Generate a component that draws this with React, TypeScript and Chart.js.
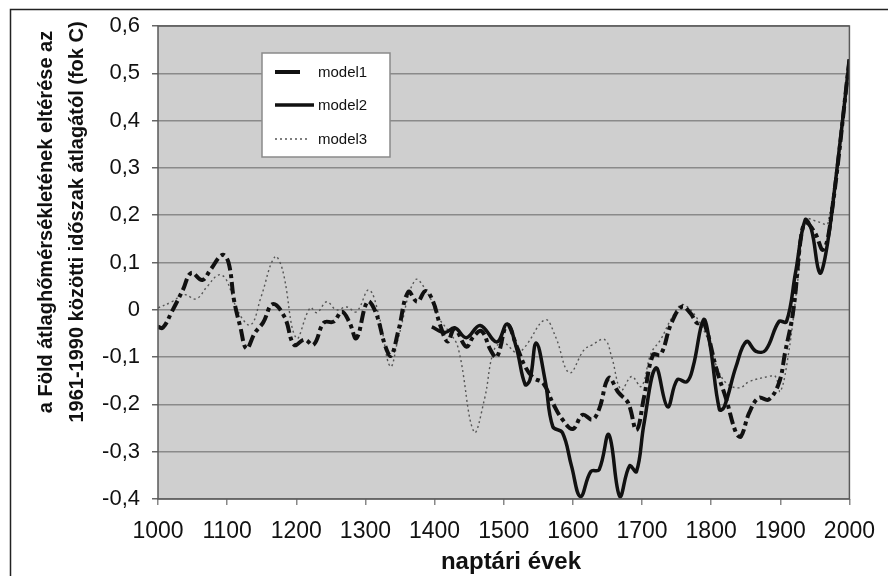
import React, { useEffect, useRef } from "react";
import { Chart, registerables } from "chart.js";

Chart.register(...registerables);

const seriesNames = ["model1", "model2", "model3"];
const yTitleLines = [
  "a Föld átlaghőmérsékletének eltérése az",
  "1961-1990 közötti időszak átlagától (fok C)",
];
const xTitle = "naptári évek";

const years1 = [1000, 1007, 1020, 1036, 1048, 1064, 1076, 1093, 1102, 1110, 1119, 1128, 1140, 1152, 1166, 1183, 1197, 1212, 1225, 1240, 1254, 1266, 1277, 1287, 1303, 1315, 1329, 1337, 1348, 1362, 1375, 1387, 1398, 1408, 1419, 1429, 1446, 1456, 1468, 1481, 1490, 1505, 1519, 1531, 1543, 1557, 1571, 1585, 1600, 1614, 1628, 1638, 1652, 1666, 1680, 1692, 1703, 1716, 1727, 1742, 1758, 1770, 1780, 1789, 1808, 1822, 1836, 1843, 1855, 1869, 1883, 1898, 1907, 1919, 1930, 1937, 1950, 1962, 1973, 2000];
const model1 = [-0.036, -0.038, -0.004, 0.042, 0.078, 0.063, 0.085, 0.116, 0.1, 0.02, -0.036, -0.082, -0.049, -0.027, 0.012, -0.015, -0.074, -0.063, -0.074, -0.027, -0.025, -0.004, -0.027, -0.06, 0.017, -0.006, -0.078, -0.097, -0.042, 0.038, 0.017, 0.04, 0.017, -0.032, -0.067, -0.04, -0.078, -0.057, -0.045, -0.085, -0.1, -0.032, -0.078, -0.12, -0.144, -0.155, -0.197, -0.232, -0.252, -0.222, -0.232, -0.21, -0.144, -0.175, -0.197, -0.254, -0.184, -0.095, -0.095, -0.03, 0.007, -0.007, -0.028, -0.025, -0.127, -0.19, -0.26, -0.268, -0.218, -0.186, -0.19, -0.155, -0.09, 0, 0.154, 0.184, 0.163, 0.127, 0.19, 0.529];

const years2 = [1396, 1415, 1429, 1446, 1466, 1490, 1505, 1518, 1531, 1538, 1547, 1560, 1571, 1585, 1598, 1611, 1626, 1638, 1652, 1668, 1682, 1692, 1703, 1720, 1737, 1751, 1765, 1774, 1789, 1798, 1812, 1819, 1836, 1851, 1865, 1879, 1898, 1909, 1922, 1936, 1945, 1957, 1966, 1979, 2000];
const model2 = [-0.036, -0.048, -0.038, -0.059, -0.033, -0.068, -0.03, -0.078, -0.158, -0.148, -0.07, -0.15, -0.247, -0.26, -0.33, -0.395, -0.342, -0.338, -0.264, -0.395, -0.33, -0.342, -0.24, -0.123, -0.205, -0.148, -0.152, -0.12, -0.021, -0.07, -0.211, -0.205, -0.12, -0.067, -0.088, -0.085, -0.025, -0.025, 0.078, 0.19, 0.17, 0.078, 0.12, 0.26, 0.53];

const years3 = [1000, 1020, 1038, 1055, 1071, 1088, 1099, 1116, 1134, 1149, 1169, 1180, 1200, 1220, 1230, 1244, 1258, 1273, 1287, 1305, 1320, 1336, 1348, 1372, 1391, 1405, 1420, 1434, 1457, 1472, 1486, 1500, 1519, 1531, 1560, 1575, 1595, 1616, 1628, 1646, 1656, 1670, 1685, 1699, 1713, 1727, 1744, 1760, 1789, 1808, 1822, 1841, 1855, 1883, 1893, 1900, 1912, 1926, 1937, 1955, 1969, 2000];
const model3 = [0.004, 0.017, 0.032, 0.023, 0.049, 0.074, 0.063, -0.004, -0.032, 0.027, 0.112, 0.085, -0.06, 0.004, -0.006, 0.017, 0, 0.006, -0.004, 0.042, -0.015, -0.12, -0.057, 0.063, 0.032, -0.015, -0.045, -0.08, -0.258, -0.19, -0.085, -0.07, -0.091, -0.078, -0.021, -0.057, -0.133, -0.085, -0.074, -0.063, -0.099, -0.169, -0.141, -0.162, -0.092, -0.063, -0.015, 0.011, -0.042, -0.12, -0.155, -0.165, -0.152, -0.141, -0.141, -0.173, -0.092, 0.07, 0.19, 0.186, 0.183, 0.53];

const FONT = '"Liberation Sans", Arial, sans-serif';

const toPoints = (xs: number[], ys: number[]) => xs.map((x, i) => ({ x, y: ys[i] }));

const decorPlugin = {
  id: "decor",
  beforeDraw(chart: any) {
    const { ctx, chartArea: a } = chart;
    ctx.save();
    ctx.fillStyle = "#cfcfcf";
    ctx.fillRect(a.left, a.top, a.right - a.left, a.bottom - a.top);
    ctx.restore();
  },
  afterDraw(chart: any) {
    const { ctx, chartArea: a } = chart;
    ctx.save();
    ctx.strokeStyle = "#5a5a5a";
    ctx.lineWidth = 1.5;
    ctx.strokeRect(a.left, a.top, a.right - a.left, a.bottom - a.top);
    ctx.strokeStyle = "#222";
    ctx.lineWidth = 1.5;
    ctx.beginPath();
    ctx.moveTo(10.5, 576);
    ctx.lineTo(10.5, 9.5);
    ctx.lineTo(888, 9.5);
    ctx.stroke();

    ctx.fillStyle = "#111";
    ctx.font = `bold 20px ${FONT}`;
    ctx.textAlign = "center";
    ctx.textBaseline = "middle";
    ctx.save();
    ctx.translate(46, 222);
    ctx.rotate(-Math.PI / 2);
    ctx.fillText(yTitleLines[0], 0, 0);
    ctx.fillText(yTitleLines[1], 0, 31);
    ctx.restore();
    ctx.font = `bold 24px ${FONT}`;
    ctx.fillText(xTitle, 511, 562);

    const lx = 262, ly = 53, lw = 128, lh = 104;
    ctx.fillStyle = "#ffffff";
    ctx.fillRect(lx, ly, lw, lh);
    ctx.strokeStyle = "#8a8a8a";
    ctx.lineWidth = 1.5;
    ctx.strokeRect(lx, ly, lw, lh);
    const rows = [73, 106, 140];
    const styles = [
      { w: 4, dash: [] as number[], x2: 300, color: "#111" },
      { w: 3.5, dash: [] as number[], x2: 314, color: "#111" },
      { w: 1.3, dash: [2, 3], x2: 309, color: "#555" },
    ];
    ctx.font = `15px ${FONT}`;
    ctx.textAlign = "left";
    rows.forEach((ry, i) => {
      const s = styles[i];
      ctx.strokeStyle = s.color;
      ctx.lineWidth = s.w;
      ctx.setLineDash(s.dash);
      ctx.beginPath();
      ctx.moveTo(275, ry - 1);
      ctx.lineTo(s.x2, ry - 1);
      ctx.stroke();
      ctx.setLineDash([]);
      ctx.fillStyle = "#111";
      ctx.fillText(seriesNames[i], 318, ry);
    });
    ctx.restore();
  },
};

export default function App() {
  const ref = useRef<HTMLCanvasElement | null>(null);
  useEffect(() => {
    if (!ref.current) return;
    const chart = new Chart(ref.current, {
      type: "line",
      data: {
        datasets: [
          {
            label: seriesNames[0],
            data: toPoints(years1, model1),
            borderColor: "#111",
            borderWidth: 4,
            borderDash: [12, 4, 4, 4],
            pointRadius: 0,
            tension: 0.4,
            fill: false,
          },
          {
            label: seriesNames[1],
            data: toPoints(years2, model2),
            borderColor: "#111",
            borderWidth: 3.5,
            pointRadius: 0,
            tension: 0.4,
            fill: false,
          },
          {
            label: seriesNames[2],
            data: toPoints(years3, model3),
            borderColor: "#555",
            borderWidth: 1.4,
            borderDash: [2, 3],
            pointRadius: 0,
            tension: 0.4,
            fill: false,
          },
        ],
      },
      options: {
        animation: false,
        responsive: false,
        events: [],
        layout: { padding: { left: 0, top: 26, right: 27, bottom: 0 } },
        plugins: { legend: { display: false }, tooltip: { enabled: false }, title: { display: false } },
        scales: {
          x: {
            type: "linear",
            min: 1000,
            max: 2000,
            afterFit: (s: any) => { s.height = 77; },
            ticks: {
              stepSize: 100,
              color: "#111",
              font: { family: FONT, size: 23 },
              padding: 13,
              maxRotation: 0,
              autoSkip: false,
              callback: (v: any) => String(Math.round(Number(v))),
            },
            grid: { drawOnChartArea: false, drawTicks: true, tickLength: 6, tickColor: "#888", lineWidth: 1.5 },
            border: { display: false },
          },
          y: {
            min: -0.4,
            max: 0.6,
            afterFit: (s: any) => { s.width = 158; },
            ticks: {
              stepSize: 0.1,
              color: "#111",
              font: { family: FONT, size: 22 },
              padding: 12,
              callback: (v: any) => {
                const n = Math.round(Number(v) * 10) / 10;
                return n === 0 ? "0" : n.toFixed(1).replace(".", ",");
              },
            },
            grid: { color: "#8a8a8a", lineWidth: 1.5, tickLength: 6, tickColor: "#666" },
            border: { display: false },
          },
        },
      },
      plugins: [decorPlugin],
    });
    return () => chart.destroy();
  }, []);
  return (
    <div style={{ position: "fixed", left: 0, top: 0, width: 888, height: 576, background: "#fff" }}>
      <canvas ref={ref} width={888} height={576} />
    </div>
  );
}
